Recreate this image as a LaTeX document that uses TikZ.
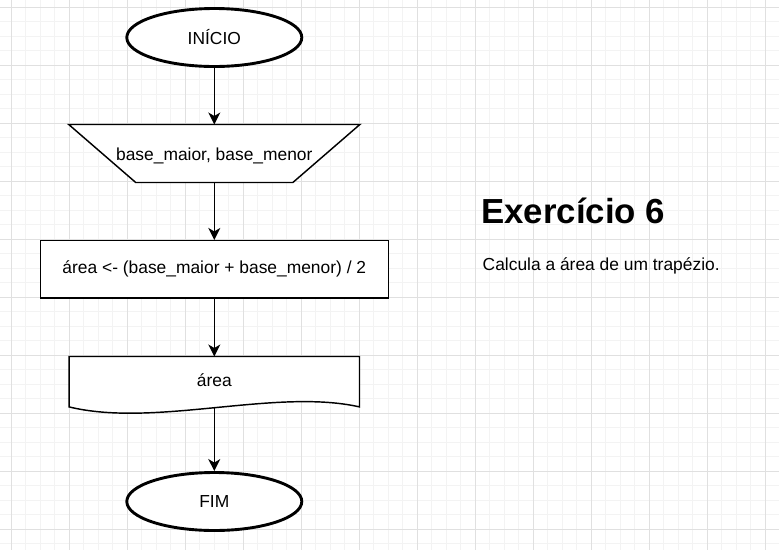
\documentclass[tikz,border=0pt]{standalone}
\usepackage{fontspec}
\setmainfont{Liberation Sans}
\usetikzlibrary{shapes.geometric,arrows.meta}

\definecolor{gridminor}{HTML}{F3F3F3}
\definecolor{gridmajor}{HTML}{E0E0E0}

\begin{document}
\begin{tikzpicture}[x=1pt, y=-1pt, node distance=116pt,
  font=\fontsize{17.4}{20}\selectfont]

% Styles
\tikzstyle{terminal} = [draw, ellipse, line width=2.9pt, fill=white, inner sep=0pt, minimum width=175pt, minimum height=58pt]
\tikzstyle{inbox}    = [rectangle, inner sep=0pt, minimum width=290.7pt, minimum height=57.6pt]
\tikzstyle{procbox}  = [draw, rectangle, line width=1.45pt, fill=white, inner sep=0pt, minimum width=348pt, minimum height=57.3pt]
\tikzstyle{docbox}   = [rectangle, inner sep=0pt, minimum width=290pt, minimum height=50pt]
\tikzstyle{shapeline}= [line width=1.45pt, fill=white]
\tikzstyle{flow}     = [line width=1.45pt, -{Stealth[length=12pt, width=12pt, inset=3.5pt]}]

% Background and grid
\useasboundingbox (0,0) rectangle (779,550);
\fill[white] (0,0) rectangle (779,550);
\foreach \gx in {11.3,25.8,...,779} \draw[gridminor, line width=1pt] (\gx,0) -- (\gx,550);
\foreach \gy in {7.3,21.8,...,550} \draw[gridminor, line width=1pt] (0,\gy) -- (779,\gy);
\foreach \gx in {11.3,69.3,...,779} \draw[gridmajor, line width=1pt] (\gx,0) -- (\gx,550);
\foreach \gy in {7.3,65.3,...,550} \draw[gridmajor, line width=1pt] (0,\gy) -- (779,\gy);

% Nodes
\node [terminal] (ini) at (214.3,37.5) {INÍCIO};
\node [inbox, below of=ini] (entrada) {};
\draw [shapeline] (entrada.north west) -- (entrada.north east)
  -- ([xshift=-67pt]entrada.south east) -- ([xshift=67pt]entrada.south west) -- cycle;
\node at ([yshift=-2.5pt]entrada.center) {base\_maior, base\_menor};
\node [procbox, below of=entrada, node distance=115.8pt] (calc) {área <- (base\_maior + base\_menor) / 2};
\node [docbox, below of=calc, node distance=112.4pt] (saida) {};
\draw [shapeline] (saida.south west) -- (saida.north west) -- (saida.north east) -- (saida.south east)
  .. controls +(-84,-19) and +(86,21) .. (saida.south west) -- cycle;
\node at ([yshift=1.7pt]saida.center) {área};
\node [terminal, below of=saida, node distance=119.8pt] (fim) {FIM};

% Title
\node [anchor=base west, inner sep=0pt, font=\fontsize{34.8}{40}\selectfont\bfseries] (titulo) at (481,223) {Exercício 6};
\node [anchor=base west, inner sep=0pt] (descr) at (482.5,270) {Calcula a área de um trapézio.};

% Flow
\draw [flow] (ini) -- (entrada);
\draw [flow] (entrada) -- (calc);
\draw [flow] (calc) -- (saida);
\draw [flow] (saida) -- (fim);

\end{tikzpicture}
\end{document}
